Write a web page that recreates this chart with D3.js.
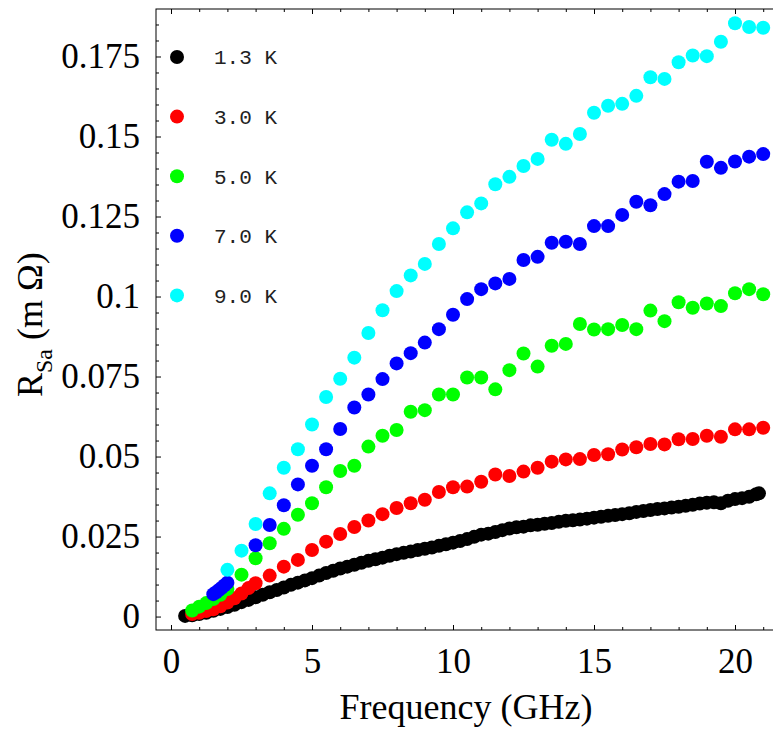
<!DOCTYPE html>
<html>
<head>
<meta charset="utf-8">
<script src="https://cdn.jsdelivr.net/npm/d3@7"></script>
<style>
  body { margin: 0; background: #fff; }
  svg { display: block; overflow: hidden; }
</style>
</head>
<body>
<svg width="773" height="732"></svg>
<script>
// series (frequency in GHz, R_Sa in mOhm)
const freq13K = [0.5,0.75,1,1.25,1.5,1.75,2,2.25,2.5,2.75,3,3.25,3.5,3.75,4,4.25,4.5,4.75,5,5.25,
  5.5,5.75,6,6.25,6.5,6.75,7,7.25,7.5,7.75,8,8.25,8.5,8.75,9,9.25,9.5,9.75,10,10.25,
  10.5,10.75,11,11.25,11.5,11.75,12,12.25,12.5,12.75,13,13.25,13.5,13.75,14,14.25,14.5,14.75,15,15.25,
  15.5,15.75,16,16.25,16.5,16.75,17,17.25,17.5,17.75,18,18.25,18.5,18.75,19,19.25,19.5,19.75,20,20.25,
  20.5,20.75,20.85];
const rsa13K = [0.0002,0.0004,0.0008,0.0012,0.0018,0.0024,0.0030,0.0037,0.0045,0.0052,0.0060,0.0068,0.0076,0.0083,0.0091,0.0099,0.0106,0.0113,0.0120,0.0128,
  0.0136,0.0143,0.0150,0.0156,0.0162,0.0168,0.0174,0.0179,0.0184,0.0190,0.0195,0.0199,0.0203,0.0208,0.0212,0.0216,0.0221,0.0226,0.0231,0.0236,
  0.0242,0.0249,0.0256,0.0259,0.0264,0.0270,0.0275,0.0279,0.0281,0.0285,0.0287,0.0290,0.0292,0.0296,0.0299,0.0301,0.0303,0.0306,0.0309,0.0312,
  0.0315,0.0317,0.0320,0.0323,0.0327,0.0330,0.0333,0.0336,0.0338,0.0341,0.0343,0.0346,0.0349,0.0353,0.0356,0.0357,0.0354,0.0362,0.0367,0.0370,
  0.0374,0.0382,0.0385];

const freqHigh = [3.5,4,4.5,5,5.5,6,6.5,7,7.5,8,8.5,9,9.5,10,10.5,11,11.5,12,12.5,13,13.5,14,14.5,15,15.5,16,16.5,17,17.5,18,18.5,19,19.5,20,20.5,21];

const freq30K = [0.75,1,1.25,1.5,1.75,2,2.25,2.5,2.75,3].concat(freqHigh);
const rsa30K = [0.0008,0.0012,0.0017,0.0023,0.0032,0.0044,0.0057,0.0072,0.0089,0.0104,
  0.0128,0.0156,0.0177,0.0208,0.0234,0.0258,0.0280,0.0300,0.0320,0.0339,0.0354,0.0365,0.0389,0.0404,0.0406,0.0421,0.0444,0.0439,
  0.0453,0.0465,0.0484,0.0491,0.0492,0.0505,0.0507,0.0522,0.0529,0.0539,0.0538,0.0554,0.0555,0.0565,0.0562,0.0585,0.0585,0.0590];

const freq50K = [0.75,1,1.25,1.5,1.75,2,2.5,3].concat(freqHigh);
const rsa50K = [0.0019,0.0031,0.0042,0.0055,0.0068,0.0086,0.0131,0.0182,
  0.0229,0.0274,0.0318,0.0354,0.0404,0.0455,0.0471,0.0531,0.0565,0.0583,0.0640,0.0645,0.0694,0.0694,0.0747,0.0747,0.0710,0.0770,
  0.0822,0.0781,0.0846,0.0852,0.0914,0.0897,0.0898,0.0911,0.0898,0.0956,0.0923,0.0982,0.0965,0.0978,0.0970,0.1010,0.1023,0.1007];

const freq70K = [1.5,1.6,1.7,1.8,1.9,2,3].concat(freqHigh);
const rsa70K = [0.0070,0.0076,0.0083,0.0090,0.0098,0.0106,0.0223,
  0.0286,0.0348,0.0413,0.0471,0.0523,0.0586,0.0653,0.0694,0.0742,0.0791,0.0823,0.0856,0.0898,0.0943,0.0992,0.1023,0.1041,0.1055,
  0.1114,0.1124,0.1168,0.1171,0.1164,0.1220,0.1220,0.1255,0.1296,0.1285,0.1320,0.1359,0.1361,0.1421,0.1402,0.1422,0.1437,0.1445];

const freq90K = [2,2.5,3].concat(freqHigh);
const rsa90K = [0.0146,0.0206,0.0289,
  0.0385,0.0465,0.0523,0.0600,0.0686,0.0743,0.0809,0.0886,0.0957,0.1017,0.1066,0.1102,0.1164,0.1213,0.1263,0.1291,0.1351,0.1374,
  0.1408,0.1430,0.1490,0.1477,0.1508,0.1574,0.1596,0.1602,0.1627,0.1685,0.1680,0.1732,0.1753,0.1751,0.1796,0.1854,0.1842,0.1840];

const seriesNames = ["1.3 K", "3.0 K", "5.0 K", "7.0 K", "9.0 K"];
const seriesColors = ["#000000", "#ff0000", "#00ff00", "#0000ff", "#00ffff"];

const xTicks = [0, 5, 10, 15, 20];
const yTicks = [0, 0.025, 0.05, 0.075, 0.1, 0.125, 0.15, 0.175];
const yTickLabels = ["0", "0.025", "0.05", "0.075", "0.1", "0.125", "0.15", "0.175"];

const series = [
  { name: seriesNames[0], f: freq13K, v: rsa13K },
  { name: seriesNames[1], f: freq30K, v: rsa30K },
  { name: seriesNames[2], f: freq50K, v: rsa50K },
  { name: seriesNames[3], f: freq70K, v: rsa70K },
  { name: seriesNames[4], f: freq90K, v: rsa90K }
];

var svg = d3.select("svg"),
  plotLeft = 156, plotTop = 9, plotRight = 790, plotBottom = 630;

var x = d3.scaleLinear().domain([-0.532, 21.95]).range([plotLeft, plotRight]);
var y = d3.scaleLinear().domain([-0.0042, 0.18984]).range([plotBottom, plotTop]);

var serif = "'Liberation Serif', 'Times New Roman', serif";

// minor tick values
var xMinor = d3.range(0, 22).filter(d => xTicks.indexOf(d) < 0);
var yMinor = d3.range(0, 38).filter(d => d % 5 !== 0).map(d => +(d * 0.005).toFixed(3));

function styleAxis(g) {
  g.select(".domain").remove();
  g.selectAll("line").attr("stroke", "#000").attr("stroke-width", 1);
  g.selectAll("text").attr("font-family", serif).attr("font-size", 35).attr("fill", "#000");
}

// bottom axis
svg.append("g").attr("transform", "translate(0," + plotBottom + ")")
  .call(d3.axisBottom(x).tickValues(xTicks).tickSize(-5).tickPadding(18).tickFormat(d3.format("d")))
  .call(styleAxis);
svg.append("g").attr("transform", "translate(0," + plotBottom + ")")
  .call(d3.axisBottom(x).tickValues(xMinor).tickSize(-3).tickFormat(""))
  .call(styleAxis);

// top axis (ticks only)
svg.append("g").attr("transform", "translate(0," + plotTop + ")")
  .call(d3.axisTop(x).tickValues(xTicks).tickSize(-5).tickFormat(""))
  .call(styleAxis);
svg.append("g").attr("transform", "translate(0," + plotTop + ")")
  .call(d3.axisTop(x).tickValues(xMinor).tickSize(-3).tickFormat(""))
  .call(styleAxis);

// left axis
svg.append("g").attr("transform", "translate(" + plotLeft + ",0)")
  .call(d3.axisLeft(y).tickValues(yTicks).tickSize(-5).tickPadding(16)
    .tickFormat((d, i) => yTickLabels[i]))
  .call(styleAxis);
svg.append("g").attr("transform", "translate(" + plotLeft + ",0)")
  .call(d3.axisLeft(y).tickValues(yMinor).tickSize(-3).tickFormat(""))
  .call(styleAxis);

// frame
svg.append("rect")
  .attr("x", plotLeft).attr("y", plotTop)
  .attr("width", plotRight - plotLeft).attr("height", plotBottom - plotTop)
  .attr("fill", "none").attr("stroke", "#000").attr("stroke-width", 1);

// data points, black first, cyan last
series.forEach(function (s, k) {
  svg.append("g")
    .attr("fill", seriesColors[k])
    .selectAll("circle")
    .data(s.f.map((f, i) => [f, s.v[i]]))
    .enter()
    .append("circle")
    .attr("cx", d => x(d[0]))
    .attr("cy", d => y(d[1]))
    .attr("r", 7);
});

// legend
var legend = svg.append("g")
  .selectAll("g")
  .data(seriesNames)
  .enter()
  .append("g")
  .attr("transform", (d, i) => "translate(177," + (57 + i * 59.6) + ")");

legend.append("circle").attr("r", 7).attr("fill", (d, i) => seriesColors[i]);
legend.append("text")
  .attr("x", 37)
  .attr("dy", "0.35em")
  .attr("font-family", "'Liberation Mono', 'Courier New', monospace")
  .attr("font-size", 21)
  .attr("fill", "#222")
  .text(d => d);

// axis titles
svg.append("text")
  .attr("x", 466).attr("y", 719)
  .attr("text-anchor", "middle")
  .attr("font-family", serif).attr("font-size", 36)
  .text("Frequency (GHz)");

var ylab = svg.append("text")
  .attr("transform", "translate(42,397)rotate(-90)")
  .attr("font-family", serif).attr("font-size", 36);
ylab.append("tspan").text("R");
ylab.append("tspan").attr("dy", 10).attr("font-size", 24).text("Sa");
ylab.append("tspan").attr("dy", -10).text(" (m \u03A9)");
</script>
</body>
</html>
